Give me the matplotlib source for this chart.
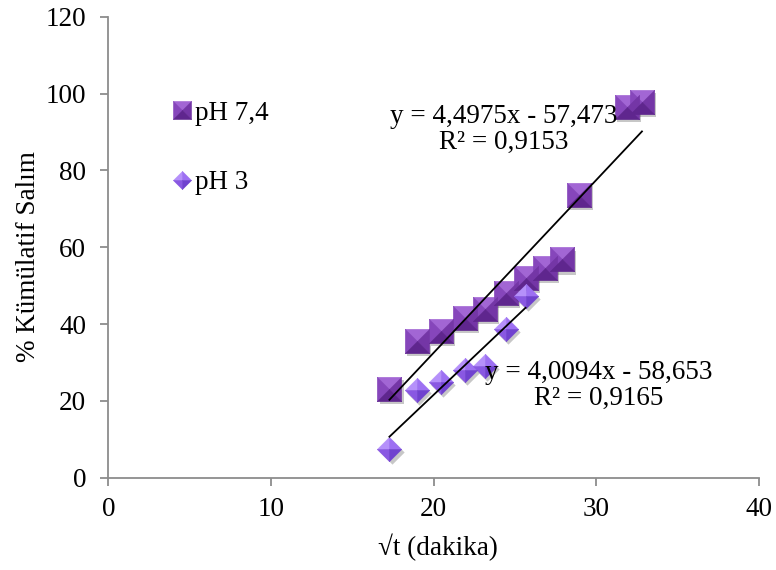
import matplotlib
matplotlib.use("Agg")
import matplotlib.pyplot as plt
from matplotlib.path import Path
from matplotlib.lines import Line2D
from matplotlib.legend_handler import HandlerTuple
from matplotlib.transforms import offset_copy
import numpy as np

plt.rcParams['font.family'] = ['Liberation Serif', 'DejaVu Serif']

# Release data: square root of time (min) vs cumulative release (%)
x_ph74 = [17.29, 18.97, 20.45, 21.94, 23.17, 24.43, 25.66, 26.83, 27.88, 28.95, 31.88, 32.82]
y_ph74 = [23.0, 35.6, 38.3, 41.7, 43.8, 48.2, 52.1, 54.5, 56.8, 73.7, 96.6, 97.7]
x_ph3 = [17.29, 18.97, 20.45, 21.94, 23.17, 24.43, 25.66]
y_ph3 = [7.6, 22.8, 25.0, 28.0, 29.1, 38.6, 47.3]

series_labels = ["pH 7,4", "pH 3"]
fit_ph74 = (4.4975, -57.473, 0.9153)
fit_ph3 = (4.0094, -58.653, 0.9165)

x_ticks = [0, 10, 20, 30, 40]
y_ticks = [0, 20, 40, 60, 80, 100, 120]

FS = 19.5


def poly(verts):
    return Path(verts + [verts[0]], [Path.MOVETO] + [Path.LINETO] * (len(verts) - 1) + [Path.CLOSEPOLY])


# Bevelled square: outline plus four triangular facets
sq_outline = poly([(-1, 1), (1, 1), (1, -1), (-1, -1)])
sq_facets = [
    (poly([(-1, 1), (1, 1), (0, 0)]), '#a266d4'),    # top
    (poly([(-1, 1), (-1, -1), (0, 0)]), '#8646bb'),  # left
    (poly([(1, 1), (1, -1), (0, 0)]), '#7436a6'),    # right
    (poly([(-1, -1), (1, -1), (0, 0)]), '#5f268e'),  # bottom
]
# Bevelled diamond
dm_outline = poly([(0, 1), (1, 0), (0, -1), (-1, 0)])
dm_facets = [
    (poly([(0, 1), (-1, 0), (0, 0)]), '#b590fa'),
    (poly([(0, 1), (1, 0), (0, 0)]), '#9d70f2'),
    (poly([(-1, 0), (0, -1), (0, 0)]), '#8958e2'),
    (poly([(1, 0), (0, -1), (0, 0)]), '#7042cf'),
]

fig = plt.figure(figsize=(7.76, 5.70), dpi=100)
ax = fig.add_axes([108.3 / 776, 1 - 477.7 / 570, (758.7 - 108.3) / 776, (477.7 - 16.7) / 570])

shadow_tr = offset_copy(ax.transData, fig=fig, x=1.6, y=-2.2, units='points')


def draw_series(xs, ys, outline, facets, size, z):
    ax.plot(xs, ys, linestyle='none', marker=outline, markersize=size, color='black',
            alpha=0.22, markeredgewidth=0, transform=shadow_tr, zorder=z)
    for path, col in facets:
        ax.plot(xs, ys, linestyle='none', marker=path, markersize=size, color=col,
                markeredgewidth=0.4, markeredgecolor=col, zorder=z + 0.1)


draw_series(x_ph74, y_ph74, sq_outline, sq_facets, 17.5, 2)
draw_series(x_ph3, y_ph3, dm_outline, dm_facets, 17.5, 3)

# Linear trendlines from the fitted coefficients
for xs, (m, b, r2) in [(x_ph74, fit_ph74), (x_ph3, fit_ph3)]:
    xx = np.array([min(xs), max(xs)])
    ax.plot(xx, m * xx + b, color='black', linewidth=1.3, zorder=5)


def fmt(v, d):
    return f"{v:.{d}f}".replace('.', ',')


for (m, b, r2), pos in [(fit_ph74, (24.34, 90.7)), (fit_ph3, (30.18, 24.0))]:
    ax.text(pos[0], pos[1], f"y = {fmt(m, 4)}x - {fmt(-b, 3)}\nR² = {fmt(r2, 4)}",
            ha='center', va='center', multialignment='center', linespacing=1.05,
            fontsize=FS, zorder=6)

ax.set_xlim(0, 40)
ax.set_ylim(0, 120)
ax.set_xticks(x_ticks)
ax.set_yticks(y_ticks)
for s in ['top', 'right']:
    ax.spines[s].set_visible(False)
for s in ['left', 'bottom']:
    ax.spines[s].set_color('#8c8c8c')
    ax.spines[s].set_linewidth(1.3)
ax.tick_params(axis='both', colors='#8c8c8c', length=5.8, width=1.3, labelcolor='black', labelsize=FS)
ax.tick_params(axis='x', pad=8)
ax.tick_params(axis='y', pad=10)

ax.set_xlabel("√t (dakika)", fontsize=FS)
ax.set_ylabel("% Kümülatif Salım", fontsize=FS)
ax.xaxis.set_label_coords(0.507, -0.122)
ax.yaxis.set_label_coords(-0.104, 0.479)

# Legend with bevelled markers
def legend_handle(facets):
    return tuple(Line2D([], [], linestyle='none', marker=p, markersize=13, color=c,
                        markeredgewidth=0.4, markeredgecolor=c) for p, c in facets)


ax.legend([legend_handle(sq_facets), legend_handle(dm_facets)], series_labels,
          handler_map={tuple: HandlerTuple(ndivide=1, pad=0)},
          frameon=False, fontsize=FS, loc='upper left', bbox_to_anchor=(0.094, 0.818),
          handlelength=0.9, handletextpad=0.05, labelspacing=1.65, borderaxespad=0, borderpad=0)

fig.savefig("out.png", dpi=100)
